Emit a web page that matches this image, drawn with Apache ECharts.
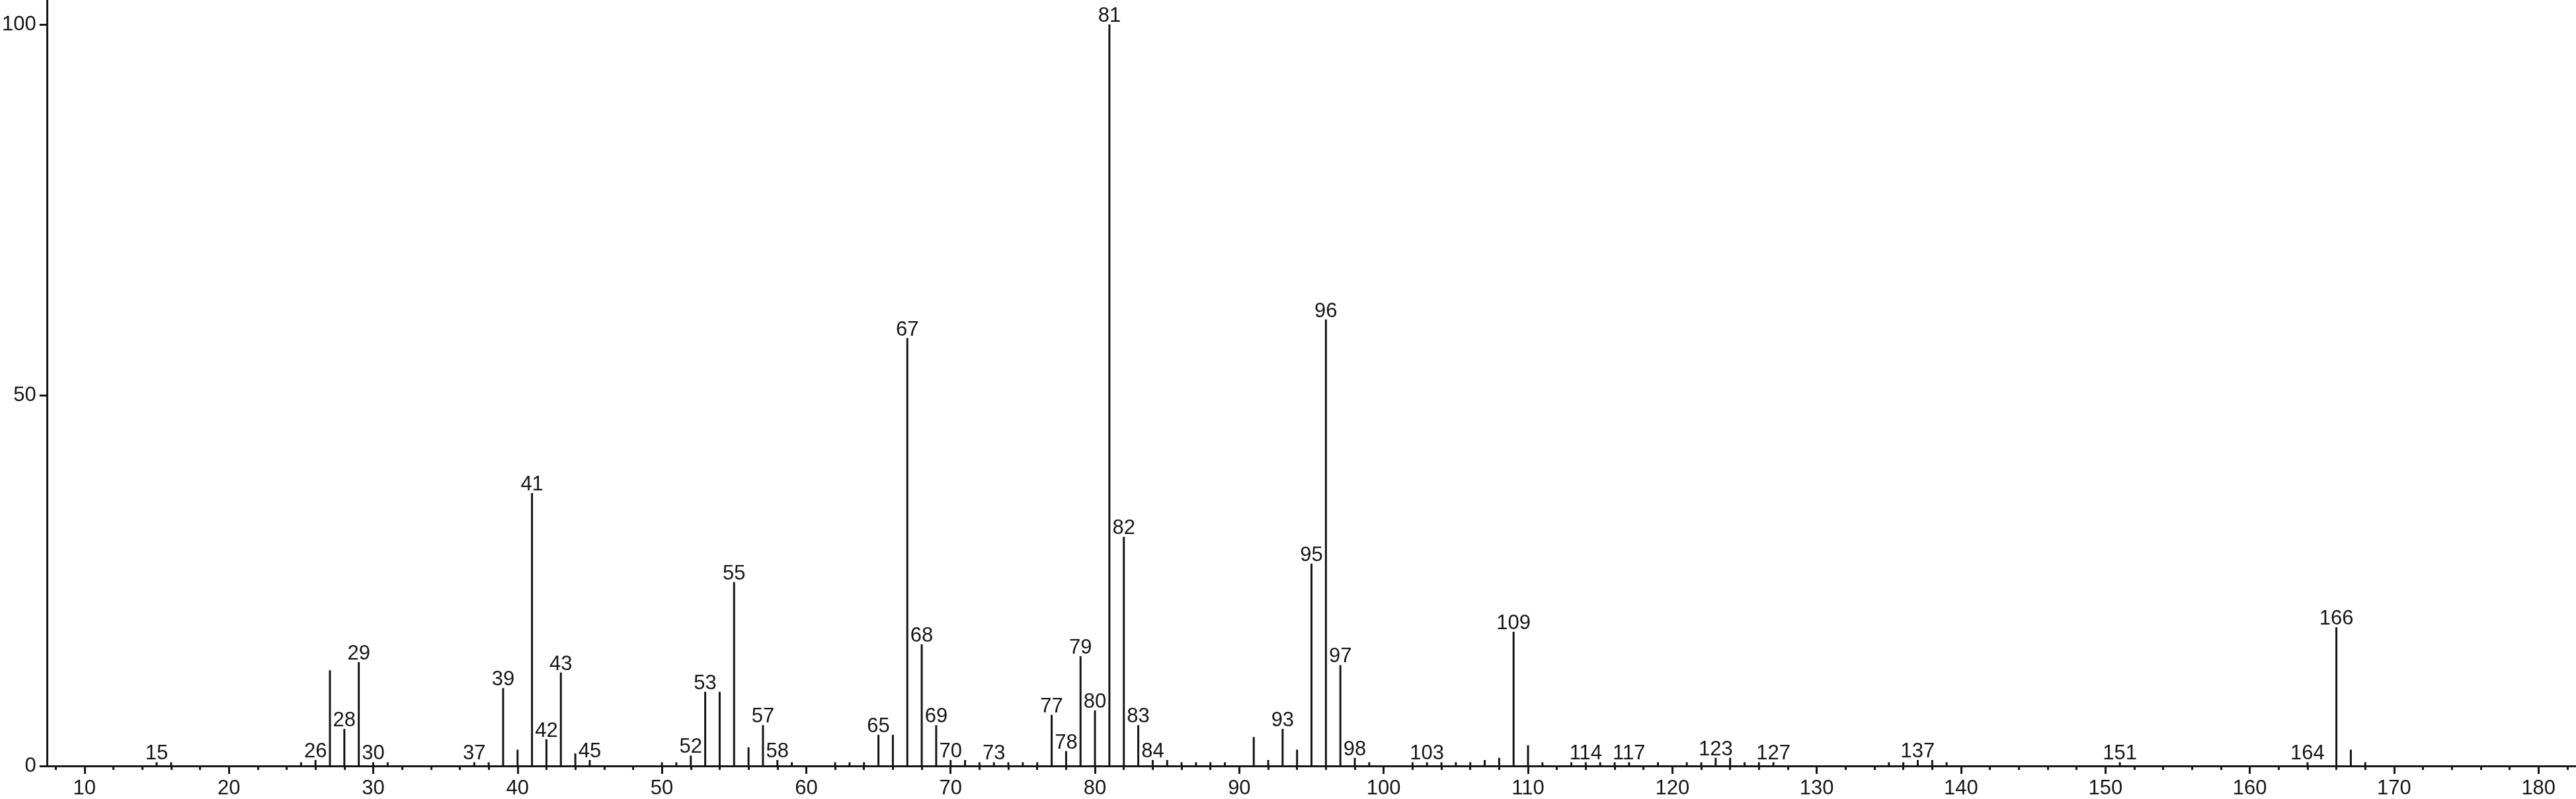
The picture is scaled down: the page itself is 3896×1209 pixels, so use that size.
<!DOCTYPE html>
<html>
<head>
<meta charset="utf-8">
<script src="https://cdn.jsdelivr.net/npm/echarts@6/dist/echarts.min.js"></script>
<style>
html,body{margin:0;padding:0;background:#fff;}
#chart{width:3896px;height:1209px;}
</style>
</head>
<body>
<div id="chart"></div>
<script>
// m/z values of the peaks
const mzValues = [15,16,25,26,27,28,29,30,31,37,38,39,40,41,42,43,44,45,50,51,52,53,54,55,56,57,58,59,
  62,63,64,65,66,67,68,69,70,71,72,73,74,75,76,77,78,79,80,81,82,83,84,85,86,87,88,89,
  91,92,93,94,95,96,97,98,99,102,103,104,105,106,107,108,109,110,111,113,114,115,116,117,
  119,121,122,123,124,125,126,127,135,136,137,138,139,151,164,166,167,168];
// relative intensities (%)
const intensities = [0.5,0.5,0.5,0.8,12.9,5.0,14.0,0.5,0.5,0.5,0.5,10.5,2.2,36.8,3.6,12.6,1.7,0.8,0.5,0.5,1.4,10.0,10.0,24.8,2.5,5.5,0.8,0.5,
  0.5,0.5,0.5,4.2,4.2,57.7,16.4,5.5,0.8,0.8,0.5,0.5,0.5,0.5,0.5,6.9,2.0,14.8,7.5,100,30.9,5.5,0.8,0.8,0.5,0.5,0.5,0.5,
  3.9,0.8,5.0,2.2,27.3,60.2,13.6,1.1,0.5,0.5,0.5,0.5,0.5,0.5,0.8,1.1,18.1,2.8,0.5,0.5,0.5,0.5,0.5,0.5,
  0.5,0.5,0.5,1.1,1.1,0.5,0.5,0.5,0.5,0.5,0.8,0.8,0.5,0.5,0.5,18.7,2.2,0.5];
// peaks carrying an m/z annotation
const labeledPeaks = [15,26,28,29,30,37,39,41,42,43,45,52,53,55,57,58,65,67,68,69,70,73,77,78,79,80,81,82,83,84,
  93,95,96,97,98,103,109,114,117,123,127,137,151,164,166];
// axis ticks
const xMajorTicks = [10,20,30,40,50,60,70,80,90,100,110,120,130,140,150,160,170,180];
const xMinorTicks = [8,12,14,16,18,22,24,26,28,32,34,36,38,42,44,46,48,52,54,56,58,62,64,66,68,72,74,76,78,
  82,84,86,88,92,94,96,98,102,104,106,108,112,114,116,118,122,124,126,128,132,134,136,138,
  142,144,146,148,152,154,156,158,162,164,166,168,172,174,176,178,182];
const yTicks = [0,50,100];

const INK = '#151515';
const FONT = "'Liberation Sans', Arial, Helvetica, sans-serif";

const data = mzValues.map((m, i) => ({
  value: [m, intensities[i]],
  label: { show: labeledPeaks.indexOf(m) >= 0 }
}));

const chart = echarts.init(document.getElementById('chart'));
chart.setOption({
  animation: false,
  backgroundColor: '#fff',
  grid: { left: 69, right: 0, top: 0, bottom: 48, containLabel: false },
  xAxis: [{
    type: 'value', min: 7.43, max: 182.6, position: 'bottom',
    axisLine: { show: true, onZero: false, lineStyle: { color: INK, width: 3 } },
    axisTick: { show: true, length: 12, customValues: xMajorTicks, lineStyle: { color: INK, width: 3 } },
    axisLabel: { show: true, customValues: xMajorTicks, margin: 19, fontSize: 31, color: INK, fontFamily: FONT },
    splitLine: { show: false }
  }, {
    type: 'value', min: 7.43, max: 182.6, position: 'bottom', offset: 0,
    axisLine: { show: false },
    axisTick: { show: true, length: 6, customValues: xMinorTicks, lineStyle: { color: INK, width: 3 } },
    axisLabel: { show: false },
    splitLine: { show: false }
  }],
  yAxis: {
    type: 'value', min: 0, max: 103.3,
    axisLine: { show: true, lineStyle: { color: INK, width: 3 } },
    axisTick: { show: true, length: 12, customValues: yTicks, lineStyle: { color: INK, width: 3 } },
    axisLabel: { show: true, customValues: yTicks, margin: 17, fontSize: 31, color: INK, fontFamily: FONT },
    splitLine: { show: false }
  },
  series: [{
    type: 'bar',
    xAxisIndex: 0,
    barWidth: 3,
    itemStyle: { color: INK },
    label: {
      position: 'top', distance: -3, fontSize: 31, color: INK, fontFamily: FONT,
      formatter: p => String(p.value[0])
    },
    data: data
  }]
});
</script>
</body>
</html>
